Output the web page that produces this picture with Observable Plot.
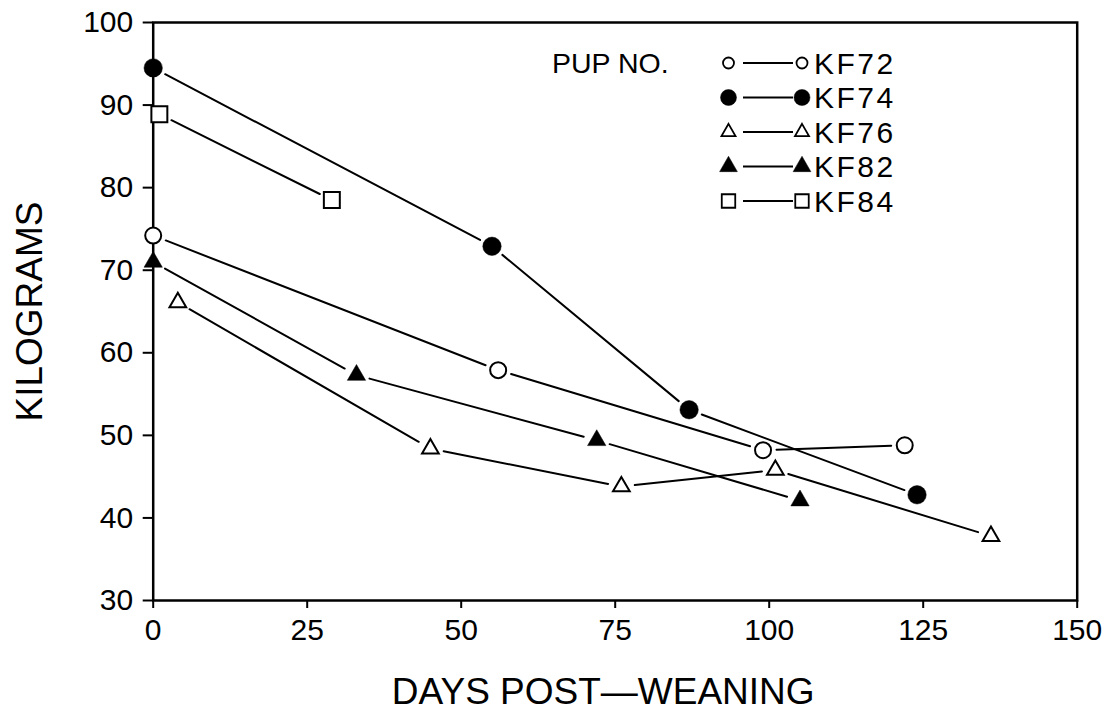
<!DOCTYPE html>
<html>
<head>
<meta charset="utf-8">
<script src="https://cdn.jsdelivr.net/npm/d3@7"></script>
<script src="https://cdn.jsdelivr.net/npm/@observablehq/plot@0.6"></script>
<style>
  html, body { margin: 0; padding: 0; background: #fff; }
  #wrap { position: relative; width: 1109px; height: 710px; overflow: hidden; }
  #legend { position: absolute; left: 0; top: 0; }
  svg text { font-family: "Liberation Sans", Arial, Helvetica, sans-serif; }
  [aria-label="y-axis label"] text { font-size: 37px; }
</style>
</head>
<body>
<div id="wrap"></div>
<script>
// ---------------- data ----------------
const seriesNames = ["KF72", "KF74", "KF76", "KF82", "KF84"];
const daysKF72 = [0, 56, 99, 122];
const kgKF72   = [74.2, 57.9, 48.2, 48.8];
const daysKF74 = [0, 55, 87, 124];
const kgKF74   = [94.5, 72.9, 53.1, 42.8];
const daysKF76 = [4, 45, 76, 101, 136];
const kgKF76   = [66.1, 48.4, 43.8, 45.8, 37.8];
const daysKF82 = [0, 33, 72, 105];
const kgKF82   = [71.0, 57.3, 49.4, 42.1];
const daysKF84 = [1, 29];
const kgKF84   = [88.9, 78.5];

const xTicks = [0, 25, 50, 75, 100, 125, 150];
const yTicks = [30, 40, 50, 60, 70, 80, 90, 100];
const xTitle = "DAYS POST\u2014WEANING";
const yTitle = "KILOGRAMS";
const legendTitle = "PUP NO.";

// ---------------- styles ----------------
const markerStyle = {
  KF72: {symbol: "circle",   filled: false, r: 8,   lr: 5.5},
  KF74: {symbol: "circle",   filled: true,  r: 9.2, lr: 8},
  KF76: {symbol: "triangle", filled: false, r: 6.2, lr: 5.2},
  KF82: {symbol: "triangle", filled: true,  r: 6.8, lr: 6.6},
  KF84: {symbol: "square",   filled: false, r: 9,   lr: 7.6}
};

// ---------------- build tables ----------------
const daysBy = {KF72: daysKF72, KF74: daysKF74, KF76: daysKF76, KF82: daysKF82, KF84: daysKF84};
const kgBy   = {KF72: kgKF72,   KF74: kgKF74,   KF76: kgKF76,   KF82: kgKF82,   KF84: kgKF84};
const points = seriesNames.flatMap(s => daysBy[s].map((d, i) => ({series: s, day: d, kg: kgBy[s][i]})));
const segments = seriesNames.flatMap(s => daysBy[s].slice(1).map((d, i) => ({
  series: s, x1: daysBy[s][i], y1: kgBy[s][i], x2: d, y2: kgBy[s][i + 1]
})));

const dotMarks = seriesNames.map(s => {
  const st = markerStyle[s];
  return Plot.dot(points.filter(p => p.series === s), {
    x: "day", y: "kg", symbol: () => st.symbol, r: st.r,
    fill: st.filled ? "black" : "white",
    stroke: "black", strokeWidth: st.filled ? 0.5 : 2
  });
});

const chart = Plot.plot({
  width: 1109,
  height: 710,
  marginLeft: 152.7,
  marginRight: 32.3,
  marginTop: 22,
  marginBottom: 110,
  x: {domain: [0, 150]},
  y: {domain: [30, 100]},
  symbol: {type: "identity"},
  style: {fontFamily: "'Liberation Sans', Arial, sans-serif", fontSize: "30px", color: "black", background: "white", overflow: "visible"},
  marks: [
    Plot.axisY({ticks: yTicks, tickSize: 10, tickPadding: 10, fontSize: 30, strokeWidth: 2,
      label: yTitle, labelAnchor: "center", labelArrow: "none", labelOffset: 137}),
    Plot.axisX({ticks: xTicks, tickSize: 8, tickPadding: 10, fontSize: 30, strokeWidth: 2, label: null}),
    Plot.text([xTitle], {text: d => d, frameAnchor: "bottom", lineAnchor: "bottom",
      dy: 103, dx: -12, fontSize: 37, fill: "black"}),
    Plot.frame({stroke: "black", strokeWidth: 2.5}),
    Plot.arrow(segments, {x1: "x1", y1: "y1", x2: "x2", y2: "y2",
      insetStart: 13.5, insetEnd: 13.5, headLength: 0, bend: 0, stroke: "black", strokeWidth: 2}),
    ...dotMarks
  ]
});

const wrap = document.getElementById("wrap");
wrap.appendChild(chart);

// ---------------- legend (overlay) ----------------
const legendLayout = {titleX: 552, titleY: 73, row0: 63, rowStep: 34.5, sym1: 728.5, lineA: 743, lineB: 793, sym2: 802, textX: 814};
const symbolTypes = {circle: d3.symbolCircle, triangle: d3.symbolTriangle, square: d3.symbolSquare};
const lg = d3.select(wrap).append("svg")
  .attr("id", "legend").attr("width", 1109).attr("height", 710)
  .style("pointer-events", "none");
lg.append("text").attr("x", legendLayout.titleX).attr("y", legendLayout.titleY)
  .attr("font-size", 28.5).attr("fill", "black").text(legendTitle);
seriesNames.forEach((s, i) => {
  const st = markerStyle[s];
  const cy = legendLayout.row0 + i * legendLayout.rowStep;
  const path = d3.symbol(symbolTypes[st.symbol], Math.PI * st.lr * st.lr)();
  [legendLayout.sym1, legendLayout.sym2].forEach(cx => {
    lg.append("path").attr("d", path).attr("transform", `translate(${cx},${cy})`)
      .attr("fill", st.filled ? "black" : "white").attr("stroke", "black")
      .attr("stroke-width", st.filled ? 0.5 : 1.8);
  });
  lg.append("line").attr("x1", legendLayout.lineA).attr("x2", legendLayout.lineB)
    .attr("y1", cy).attr("y2", cy).attr("stroke", "black").attr("stroke-width", 2);
  lg.append("text").attr("x", legendLayout.textX).attr("y", cy + 10.5)
    .attr("font-size", 30).attr("letter-spacing", 2.5).attr("fill", "black").text(s);
});
</script>
</body>
</html>
